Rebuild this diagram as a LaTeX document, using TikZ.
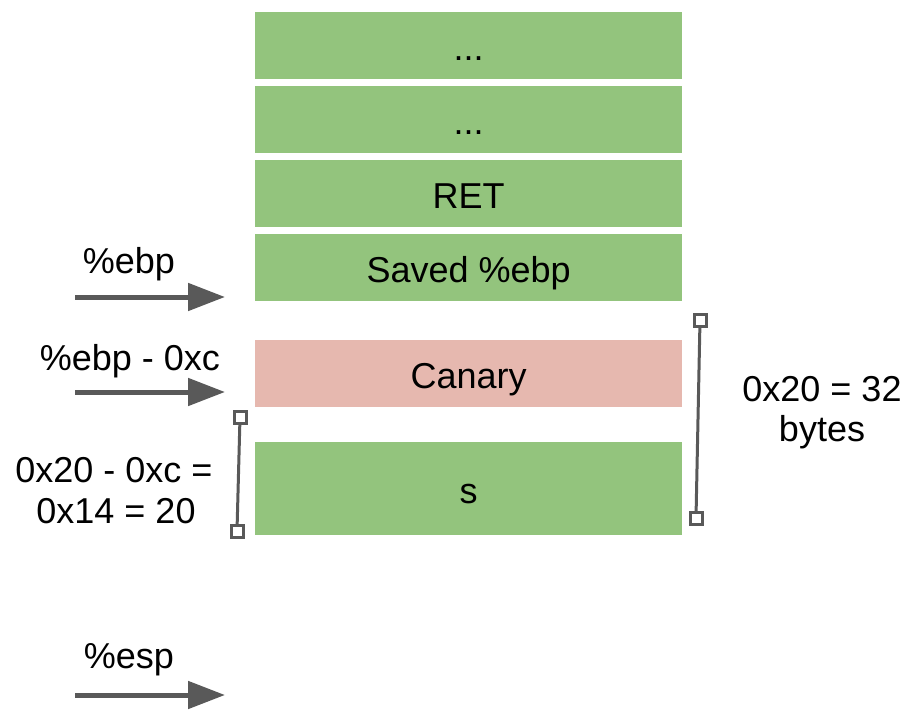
\documentclass[tikz,border=0pt]{standalone}
\usepackage{fontspec}
\setmainfont{Liberation Sans}
\usetikzlibrary{arrows.meta}
\definecolor{stackgreen}{HTML}{93C47D}
\definecolor{canarypink}{HTML}{E6B8AF}
\definecolor{linegray}{HTML}{595959}
\tikzset{
  every node/.style={font=\fontsize{36}{41}\selectfont, text=black},
  slot/.style={draw=none, fill=stackgreen, minimum width=427pt, inner sep=0pt,
    text height=29pt, text depth=0pt, anchor=north west},
  pointer/.style={draw=linegray, line width=5pt,
    -{Triangle[length=37pt, width=27pt]}},
  handle/.style={draw=linegray, fill=white, line width=3pt, minimum size=12pt,
    inner sep=0pt, outer sep=0pt, rectangle},
  span/.style={draw=linegray, line width=3pt},
  note/.style={align=center, anchor=base, inner sep=0pt}
}
\begin{document}
\begin{tikzpicture}[x=1pt, y=-1pt]
\useasboundingbox (0,0) rectangle (913,714);

% stack frame slots
\node[slot, minimum height=67pt] (top1) at (255,12) {...};
\node[slot, minimum height=67pt] (top2) at (255,86) {...};
\node[slot, minimum height=67pt] (ret) at (255,160) {RET};
\node[slot, minimum height=67pt] (savedebp) at (255,234) {Saved \%ebp};
\node[slot, minimum height=67pt, fill=canarypink] (canary) at (255,340) {Canary};
\node[slot, minimum height=93pt] (buf) at (255,442) {s};

% register pointers
\coordinate (ebpTail) at (75,297);
\coordinate (ebpTip) at (225,297);
\draw[pointer] (ebpTail) -- (ebpTip);
\node[note] (ebpLabel) at (129,273) {\%ebp};

\coordinate (canTail) at (75,392);
\coordinate (canTip) at (225,392);
\draw[pointer] (canTail) -- (canTip);
\node[note] (canLabel) at (130,370) {\%ebp - 0xc};

\coordinate (espTail) at (75,695);
\coordinate (espTip) at (225,695);
\draw[pointer] (espTail) -- (espTip);
\node[note] (espLabel) at (129,668) {\%esp};

% size brackets
\node[handle] (rtop) at (700,320) {};
\node[handle] (rbot) at (696,518) {};
\draw[span] (rtop) -- (rbot);
\node[note] (rlab1) at (822,401) {0x20 = 32};
\node[note] (rlab2) at (822,441) {bytes};

\node[handle] (ltop) at (240,417) {};
\node[handle] (lbot) at (237,531) {};
\draw[span] (ltop) -- (lbot);
\node[note] (llab1) at (114,482) {0x20 - 0xc =};
\node[note] (llab2) at (116,523) {0x14 = 20};
\end{tikzpicture}
\end{document}
